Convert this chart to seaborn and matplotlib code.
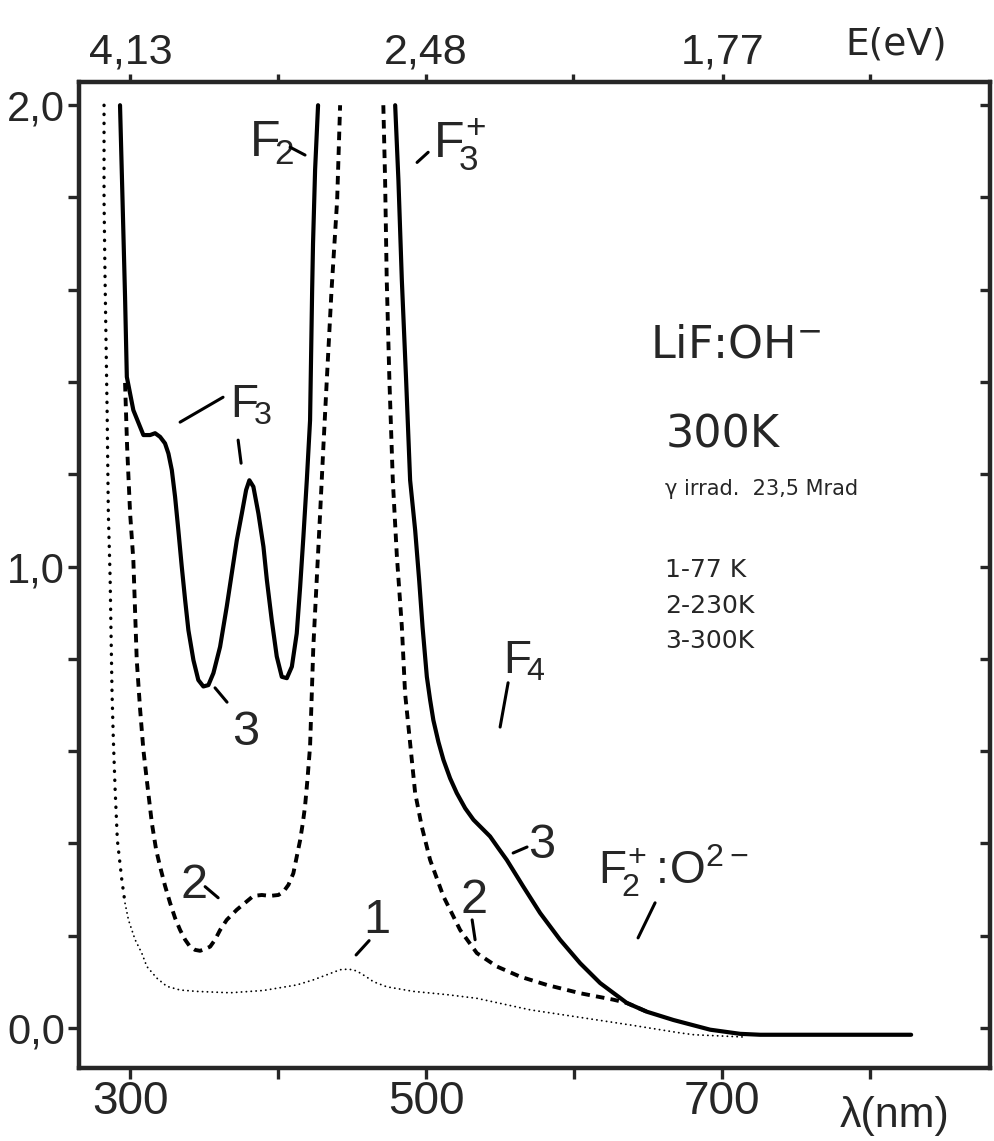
import matplotlib
matplotlib.use("Agg")
import matplotlib.pyplot as plt
import numpy as np
import pandas as pd
import seaborn as sns

# ---------------- data (wavelength nm, optical density) ----------------
# curve 1 : 77 K (dotted)
wl_1 = [282.4, 282.4, 283.1, 284.5, 285.3, 286.5, 287.8, 288.7, 289.9, 291.4,
        294.4, 296.6, 298.9, 303.4, 307.9, 311.3, 318.0, 324.8, 333.8, 345.1,
        367.6, 390.1, 412.6, 423.8, 432.9, 441.9, 446.4, 450.9, 455.4, 459.9,
        464.4, 473.4, 491.4, 514.0, 534.3, 570.3, 638.5, 671.6, 681.1, 715.5]
od_1 = [2.00, 1.794, 1.621, 1.333, 1.116, 0.977, 0.726, 0.624, 0.516, 0.407,
        0.321, 0.270, 0.234, 0.191, 0.162, 0.133, 0.108, 0.090, 0.082, 0.079,
        0.076, 0.081, 0.093, 0.104, 0.115, 0.126, 0.127, 0.126, 0.119, 0.110,
        0.100, 0.089, 0.079, 0.072, 0.064, 0.039, 0.006, -0.011, -0.015, -0.020]

# curve 2 : 230 K (dashed) - short-wavelength branch and long-wavelength branch
wl_2a = [296.6, 298.0, 300.0, 302.2, 304.5, 306.8, 309.0, 311.3, 314.7, 317.6,
         320.3, 323.6, 327.0, 330.4, 333.8, 337.2, 340.5, 343.9, 347.3, 350.7,
         354.1, 357.4, 360.8, 365.3, 372.1, 378.8, 383.3, 389.0, 394.6, 400.2,
         403.6, 407.0, 410.3, 412.6, 414.9, 416.7, 418.2, 419.8, 421.6, 423.8,
         426.1, 428.4, 430.6, 432.9, 436.1, 439.9, 441.9]
od_2a = [1.398, 1.259, 1.116, 1.014, 0.797, 0.689, 0.602, 0.537, 0.444, 0.386,
         0.349, 0.308, 0.271, 0.238, 0.212, 0.191, 0.176, 0.169, 0.167, 0.171,
         0.176, 0.191, 0.212, 0.234, 0.256, 0.274, 0.286, 0.288, 0.286, 0.288,
         0.295, 0.310, 0.335, 0.371, 0.407, 0.444, 0.480, 0.537, 0.610, 0.826,
         0.971, 1.116, 1.260, 1.404, 1.599, 1.794, 2.00]
wl_2b = [471.1, 472.3, 473.4, 475.2, 477.5, 480.2, 483.6, 485.8, 489.2, 492.6,
         497.1, 502.7, 511.7, 523.0, 534.3, 547.8, 563.5, 581.6, 604.1, 626.6,
         635.6, 649.1]
od_2b = [2.00, 1.837, 1.621, 1.404, 1.187, 1.025, 0.870, 0.725, 0.617, 0.509,
         0.436, 0.364, 0.285, 0.212, 0.162, 0.133, 0.111, 0.093, 0.075, 0.061,
         0.054, 0.035]

# curve 3 : 300 K (solid)
wl_3a = [293.2, 294.9, 296.6, 297.8, 302.2, 309.0, 313.5, 316.9, 320.3, 323.6,
         325.9, 328.2, 330.4, 332.6, 334.9, 337.2, 339.4, 342.8, 346.1, 349.5,
         352.9, 356.3, 360.8, 365.3, 368.7, 372.1, 375.5, 378.4, 380.6, 383.3,
         386.7, 390.1, 392.4, 395.7, 399.1, 402.5, 405.9, 409.3, 412.6, 414.9,
         417.1, 419.4, 421.6, 423.0, 423.6, 425.0, 427.0]
od_3a = [2.00, 1.794, 1.584, 1.411, 1.339, 1.285, 1.285, 1.289, 1.281, 1.267,
         1.245, 1.209, 1.151, 1.079, 1.000, 0.927, 0.862, 0.797, 0.754, 0.740,
         0.743, 0.769, 0.826, 0.913, 0.985, 1.057, 1.115, 1.166, 1.187, 1.173,
         1.115, 1.043, 0.971, 0.884, 0.805, 0.761, 0.758, 0.783, 0.855, 0.956,
         1.065, 1.187, 1.317, 1.599, 1.700, 1.860, 2.00]
wl_3b = [479.1, 481.3, 483.6, 486.5, 489.2, 492.6, 495.3, 497.6, 500.5, 502.7,
         504.9, 508.3, 511.7, 516.2, 520.7, 526.4, 532.0, 537.6, 543.2, 548.9,
         554.5, 565.7, 577.0, 590.5, 604.1, 617.6, 635.6, 649.1, 667.1, 691.9,
         712.2, 725.7, 827.7]
od_3b = [2.00, 1.837, 1.621, 1.404, 1.187, 1.079, 0.971, 0.869, 0.761, 0.711,
         0.667, 0.620, 0.581, 0.541, 0.509, 0.476, 0.451, 0.433, 0.415, 0.389,
         0.364, 0.306, 0.249, 0.191, 0.140, 0.097, 0.054, 0.035, 0.017, -0.004,
         -0.013, -0.015, -0.015]

# axis ticks
x_ticks_nm = [300, 400, 500, 600, 700, 800]
x_ticklabels = ["300", "", "500", "", "700", ""]
top_eV = [4.13, 3.10, 2.48, 2.07, 1.77, 1.55]
top_labels = ["4,13", "", "2,48", "", "1,77", ""]
y_ticks = [0.0, 0.2, 0.4, 0.6, 0.8, 1.0, 1.2, 1.4, 1.6, 1.8, 2.0]
y_ticklabels = ["0,0", "", "", "", "", "1,0", "", "", "", "", "2,0"]

legend_lines = ["1-77 K", "2-230K", "3-300K"]

# ---------------- build tables ----------------
df1 = pd.DataFrame({"wl": wl_1, "od": od_1})
df2 = pd.DataFrame({"wl": wl_2a + wl_2b, "od": od_2a + od_2b,
                    "branch": ["a"] * len(wl_2a) + ["b"] * len(wl_2b)})
df3 = pd.DataFrame({"wl": wl_3a + wl_3b, "od": od_3a + od_3b,
                    "branch": ["a"] * len(wl_3a) + ["b"] * len(wl_3b)})

# ---------------- style ----------------
sns.set_style("ticks")
plt.rcParams["font.family"] = ["DejaVu Sans"]
plt.rcParams["axes.linewidth"] = 3.0
NARROW = ["Liberation Sans", "DejaVu Sans"]

fig = plt.figure(figsize=(9.94, 11.41), dpi=100)
ax = fig.add_axes([0.0795, 0.064, 0.9165, 0.864])

# curve 1 : dotted, coarser dots on the steep part
n_steep = 12
sns.lineplot(data=df1.iloc[:n_steep], x="wl", y="od", sort=False, estimator=None,
             color="black", lw=2.4, linestyle=(0, (0.1, 2.6)),
             dash_capstyle="round", ax=ax)
sns.lineplot(data=df1.iloc[n_steep - 1:], x="wl", y="od", sort=False, estimator=None,
             color="black", lw=1.3, linestyle=(0, (0.1, 2.6)),
             dash_capstyle="round", ax=ax)
# curve 2 : dashed
sns.lineplot(data=df2, x="wl", y="od", units="branch", estimator=None, sort=False,
             color="black", lw=2.8, linestyle=(0, (2.2, 1.6)), ax=ax)
# curve 3 : solid
sns.lineplot(data=df3, x="wl", y="od", units="branch", estimator=None, sort=False,
             color="black", lw=3.0, ax=ax)

ax.set_xlim(265.5, 881.0)
ax.set_ylim(-0.087, 2.05)
ax.set_xlabel("")
ax.set_ylabel("")

ax.set_xticks(x_ticks_nm)
ax.set_xticklabels(x_ticklabels, fontfamily=NARROW, fontsize=33)
ax.set_yticks(y_ticks)
ax.set_yticklabels(y_ticklabels, fontfamily=NARROW, fontsize=30)
ax.tick_params(axis="x", direction="out", length=8, width=2.4, pad=1)
ax.tick_params(axis="y", direction="out", length=8, width=2.4, pad=2)

# right axis: inward ticks, no labels
axr = ax.twinx()
axr.set_ylim(ax.get_ylim())
axr.set_yticks(y_ticks)
axr.set_yticklabels([])
axr.tick_params(axis="y", direction="in", length=7, width=2.4)

# top axis: photon energy in eV at the corresponding wavelengths
axt = ax.twiny()
axt.set_xlim(ax.get_xlim())
axt.set_xticks([1239.84 / e for e in top_eV])
axt.set_xticklabels(top_labels, fontfamily=NARROW, fontsize=31)
axt.tick_params(axis="x", direction="out", length=6, width=2.4, pad=1)
for a in (ax, axr, axt):
    for s in a.spines.values():
        s.set_linewidth(3.0)

fig.text(0.902, 0.952, "E(eV)", ha="center", va="baseline", fontsize=27)
fig.text(0.900, 0.012, "λ(nm)", ha="center", va="baseline", fontsize=31,
         fontfamily=NARROW)

# ---------------- annotations ----------------
def lab(x, y, s, size=36, fam=NARROW):
    ax.text(x, y, s, ha="left", va="baseline", fontsize=size, fontfamily=fam)

def leader(p1, p2):
    ax.annotate("", xy=p1, xytext=p2,
                arrowprops=dict(arrowstyle="-", lw=2.2, color="black",
                                shrinkA=0, shrinkB=0))

lab(380.5, 1.887, r"$\mathregular{F_{\!2}}$")
leader((408.1, 1.909), (418.2, 1.892))
lab(504.7, 1.887, r"$\mathregular{F_{\!3}^{\!+}}$")
leader((493.9, 1.876), (501.4, 1.898))
lab(367.6, 1.324, r"$\mathregular{F_{\!3}}$", size=33)
leader((333.8, 1.313), (362.8, 1.367))
leader((373.0, 1.274), (375.0, 1.224))
lab(368.9, 0.613, "3", size=35)
leader((357.4, 0.737), (365.5, 0.706))
lab(333.8, 0.282, "2", size=35)
leader((350.7, 0.306), (359.5, 0.282))
lab(457.4, 0.206, "1", size=35)
leader((452.7, 0.158), (461.5, 0.189))
lab(523.0, 0.249, "2", size=35)
leader((531.1, 0.234), (533.1, 0.191))
lab(568.9, 0.368, "3", size=35)
leader((558.8, 0.379), (568.2, 0.392))
lab(552.0, 0.769, r"$\mathregular{F_{\!4}}$", size=33)
leader((550.0, 0.652), (555.4, 0.748))
lab(616.2, 0.310, r"$\mathregular{F_{\!2}^{\!+}\!:\!O^{2-}}$", size=33)
leader((643.2, 0.195), (654.7, 0.271))

lab(651.4, 1.454, r"LiF:OH$^{-}$", size=32, fam=["DejaVu Sans"])
lab(661.5, 1.259, "300K", size=32, fam=["DejaVu Sans"])
lab(661.5, 1.155, "γ irrad.  23,5 Mrad", size=15, fam=["DejaVu Sans"])
for i, t in enumerate(legend_lines):
    lab(661.5, [0.977, 0.899, 0.823][i], t, size=18, fam=["DejaVu Sans"])

fig.savefig("out.png", dpi=100)
